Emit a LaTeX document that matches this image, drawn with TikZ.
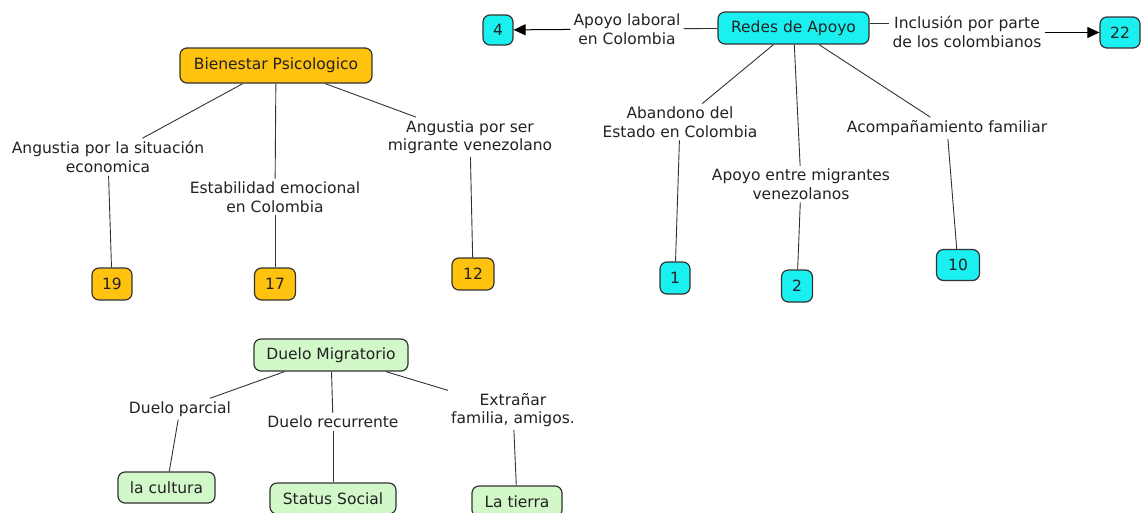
\documentclass[tikz,border=0pt]{standalone}
\usepackage{fontspec}
\setmainfont{DejaVu Sans}
\usetikzlibrary{arrows.meta}
\definecolor{orng}{HTML}{FFC20E}
\definecolor{cyn}{HTML}{1AF0F0}
\definecolor{grn}{HTML}{D2F7C8}
\definecolor{txt}{HTML}{222222}
\definecolor{ln}{HTML}{333333}
\begin{document}
\begin{tikzpicture}[x=1pt,y=-1pt,
  font=\fontsize{15.5}{18.5}\selectfont, text=txt,
  concept/.style={draw=ln, line width=1.2pt, rounded corners=7pt, inner sep=0pt, align=center},
  oconc/.style={concept, fill=orng},
  cconc/.style={concept, fill=cyn},
  gconc/.style={concept, fill=grn},
  lab/.style={align=center, inner sep=3pt, fill=white},
  link/.style={draw=ln, line width=0.9pt},
  arrowlink/.style={draw=black, line width=1pt, -{Triangle[length=12pt,width=11pt]}}]
\useasboundingbox (0,0) rectangle (1142,512);
\fill[white] (0,0) rectangle (1142,512);
% ---- Bienestar Psicologico
\node[oconc, minimum width=192pt, minimum height=35pt] (bien) at (276,65.5) {Bienestar Psicologico};
\node[lab] (l1) at (108,157) {Angustia por la situación\\economica};
\node[lab] (l2) at (275,197) {Estabilidad emocional\\en Colombia};
\node[lab] (l3) at (470,137) {Angustia por ser\\migrante venezolano};
\node[oconc, minimum width=40pt, minimum height=32pt] (n19) at (112,284) {19};
\node[oconc, minimum width=41pt, minimum height=32pt] (n17) at (275,284) {17};
\node[oconc, minimum width=42pt, minimum height=32pt] (n12) at (473,274) {12};
\draw[link] (bien) -- (l1); \draw[link] (l1) -- (n19);
\draw[link] (bien) -- (l2); \draw[link] (l2) -- (n17);
\draw[link] (bien) -- (l3); \draw[link] (l3) -- (n12);
% ---- Redes de Apoyo
\node[cconc, minimum width=151pt, minimum height=32pt] (redes) at (793.5,28) {Redes de Apoyo};
\node[cconc, minimum width=30pt, minimum height=30pt] (n4) at (498,30) {4};
\node[cconc, minimum width=40pt, minimum height=31pt] (n22) at (1120,32.5) {22};
\node[lab] (r1) at (627,29) {Apoyo laboral\\en Colombia};
\node[lab] (r2) at (967,32) {Inclusión por parte\\de los colombianos};
\node[lab] (r3) at (680,122) {Abandono del\\Estado en Colombia};
\node[lab] (r4) at (801,184) {Apoyo entre migrantes\\venezolanos};
\node[lab] (r5) at (947,128) {Acompañamiento familiar};
\node[cconc, minimum width=30pt, minimum height=32pt] (n1) at (675,278) {1};
\node[cconc, minimum width=31pt, minimum height=32pt] (n2) at (797,286) {2};
\node[cconc, minimum width=43pt, minimum height=31pt] (n10) at (958,265) {10};
\draw[link] (redes) -- (r1); \draw[arrowlink] (r1) -- (n4);
\draw[link] ([yshift=5pt]redes.east) -- ([yshift=5pt]redes.east -| r2.west);
\draw[arrowlink] (r2.east |- n22) -- (n22);
\draw[link] (redes) -- (r3); \draw[link] (r3) -- (n1);
\draw[link] (redes) -- (r4); \draw[link] (r4) -- (n2);
\draw[link] (redes) -- (r5); \draw[link] (r5) -- (n10);
% ---- Duelo Migratorio
\node[gconc, minimum width=154pt, minimum height=32pt] (duelo) at (331,355) {Duelo Migratorio};
\node[lab] (d1) at (180,409) {Duelo parcial};
\node[lab] (d2) at (333,422) {Duelo recurrente};
\node[lab] (d3) at (513,410) {Extrañar\\familia, amigos.};
\node[gconc, minimum width=97pt, minimum height=31pt] (cult) at (166.5,487.5) {la cultura};
\node[gconc, minimum width=126pt, minimum height=31pt] (stat) at (333,498.5) {Status Social};
\node[gconc, minimum width=90pt, minimum height=31pt] (tier) at (517,501.5) {La tierra};
\draw[link] (duelo) -- (d1); \draw[link] (d1) -- (cult);
\draw[link] (duelo) -- (d2); \draw[link] (d2) -- (stat);
\draw[link] (duelo) -- (d3); \draw[link] (d3) -- (tier);
\end{tikzpicture}
\end{document}
